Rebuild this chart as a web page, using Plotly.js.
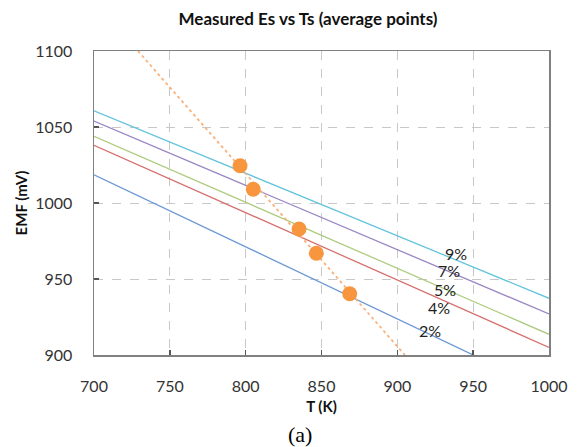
<!DOCTYPE html>
<html>
<head>
<meta charset="utf-8">
<script src="https://cdn.plot.ly/plotly-3.0.1.min.js"></script>
<style>html,body{margin:0;padding:0;background:#fff;}#chart{width:578px;height:447px;}</style>
</head>
<body>
<div id="chart"></div>
<script>
// Data
const lineLabels = ["9%", "7%", "5%", "4%", "2%"];
const lineX = [700, 1000];
const line9 = [1060.7, 937.3];
const line7 = [1053.9, 927.0];
const line5 = [1043.9, 913.6];
const line4 = [1038.0, 905.0];
const line2 = [1018.6, 876.3];
const lineColors = ["#62c3dc", "#9a86c4", "#aecb7e", "#d6716f", "#6b98d6"];

const measT = [796.3, 805.0, 835.2, 846.6, 868.6];
const measE = [1024.5, 1009.0, 982.9, 966.9, 940.3];

const trendT = [729, 905];
const trendE = [1100, 900];

const labelT = [938.7, 934.3, 931.6, 927.7, 921.5];
const labelE = [966.9, 955.3, 943.2, 931.1, 916.4];

const xTicks = [700, 750, 800, 850, 900, 950, 1000];
const yTicks = [900, 950, 1000, 1050, 1100];

const lineSeries = [line9, line7, line5, line4, line2];
const traces = lineSeries.map((ys, i) => ({
  x: lineX, y: ys, mode: "lines", type: "scatter",
  line: {color: lineColors[i], width: 1.3}, name: lineLabels[i], hoverinfo: "skip"
}));
traces.push({
  x: trendT, y: trendE, mode: "lines", type: "scatter",
  line: {color: "#f9b27c", width: 1.8, dash: "dot"}, name: "fit"
});
traces.push({
  x: measT, y: measE, mode: "markers", type: "scatter",
  marker: {color: "#f7963f", size: 15}, name: "measured", cliponaxis: false
});

const annotations = lineLabels.map((t, i) => ({
  x: labelT[i], y: labelE[i], xref: "x", yref: "y", text: t, showarrow: false,
  font: {family: "Lato, 'Open Sans', sans-serif", size: 16, color: "#222"}
}));
annotations.push({
  xref: "paper", yref: "paper", x: (300 - 94) / 455, y: -(434 - 355) / 304,
  text: "(a)", showarrow: false, yanchor: "middle", xanchor: "center",
  font: {family: "'Liberation Serif', 'DejaVu Serif', serif", size: 22, color: "#000"}
});

const layout = {
  width: 578, height: 447,
  margin: {l: 94, r: 29, t: 51, b: 92},
  paper_bgcolor: "#fff", plot_bgcolor: "#fff",
  showlegend: false,
  font: {family: "Lato, 'Open Sans', sans-serif", color: "#333"},
  title: {
    text: "<b>Measured Es vs Ts (average points)</b>",
    font: {family: "Lato, 'Open Sans', sans-serif", size: 17, color: "#111"},
    xref: "container", yref: "container", x: 308 / 578, y: 1 - 19 / 447,
    xanchor: "center", yanchor: "middle"
  },
  xaxis: {
    range: [700, 1000], tickvals: xTicks, ticktext: xTicks.map(String),
    showgrid: true, gridcolor: "#c8c8c8", griddash: "dash", gridwidth: 1,
    showline: true, linecolor: "#808080", linewidth: 1.5, mirror: true,
    ticks: "inside", ticklen: 5, tickcolor: "#555", tickwidth: 1.5,
    zeroline: false, ticklabelstandoff: 16,
    tickfont: {size: 16, color: "#333"},
    title: {text: "<b>T (K)</b>", font: {size: 15, color: "#111"}, standoff: 8}
  },
  yaxis: {
    range: [900, 1100], tickvals: yTicks, ticktext: yTicks.map(String),
    showgrid: true, gridcolor: "#c8c8c8", griddash: "dash", gridwidth: 1,
    showline: true, linecolor: "#808080", linewidth: 1.5, mirror: true,
    ticks: "inside", ticklen: 5, tickcolor: "#555", tickwidth: 1.5,
    zeroline: false, ticklabelstandoff: 17,
    tickfont: {size: 16, color: "#333"},
    title: {text: "<b>EMF (mV)</b>", font: {size: 15, color: "#111"}, standoff: 4}
  },
  annotations: annotations
};

Plotly.newPlot("chart", traces, layout, {staticPlot: true, displayModeBar: false});
</script>
</body>
</html>
